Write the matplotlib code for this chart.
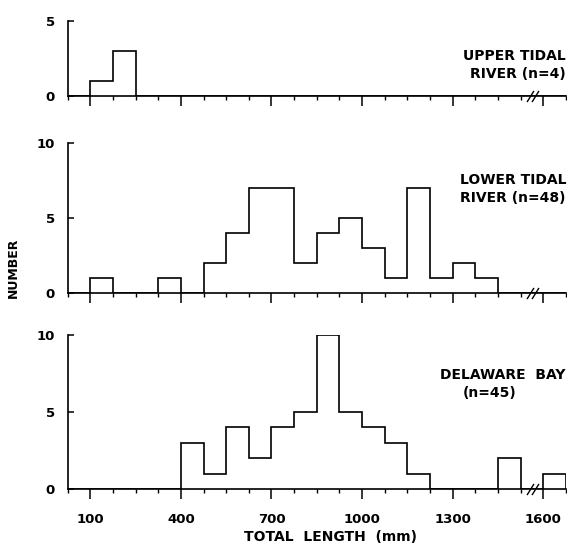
import numpy as np
import matplotlib
matplotlib.use('Agg')
import matplotlib.pyplot as plt
from matplotlib.ticker import MultipleLocator

# bin edges, 75 mm wide, 25..1675 mm
edges = np.arange(25, 1676, 75)

upper = [0, 1, 3, 0, 0, 0, 0, 0, 0, 0, 0, 0, 0, 0, 0, 0, 0, 0, 0, 0, 0, 0]
lower = [0, 1, 0, 0, 1, 0, 2, 4, 7, 7, 2, 4, 5, 3, 1, 7, 1, 2, 1, 0, 0, 0]
bay = [0, 0, 0, 0, 0, 3, 1, 4, 2, 4, 5, 10, 5, 4, 3, 1, 0, 0, 0, 2, 0, 1]

xticks = [100, 400, 700, 1000, 1300, 1600]
xticklabels = ['100', '400', '700', '1000', '1300', '1600']

plt.rcParams['font.family'] = 'DejaVu Sans'
plt.rcParams['font.weight'] = 'bold'

fig = plt.figure(figsize=(5.67, 5.49), dpi=100)

W, H = 567, 549
def box(top, bottom, left=67.6, right=566):
    return [left / W, 1 - bottom / H, (right - left) / W, (bottom - top) / H]

panels = [
    (box(20.7, 96), upper, 5, [0, 5]),
    (box(142.7, 293.3), lower, 10, [0, 5, 10]),
    (box(335, 489), bay, 10, [0, 5, 10]),
]

for rect, counts, ymax, yt in panels:
    ax = fig.add_axes(rect)
    ax.stairs(counts, edges, color='black', lw=1.2)
    ax.set_xlim(25, 1675)
    ax.set_ylim(0, ymax)
    for s in ['top', 'right']:
        ax.spines[s].set_visible(False)
    for s in ['left', 'bottom']:
        ax.spines[s].set_linewidth(1.2)
    ax.set_yticks(yt)
    ax.set_xticks(xticks)
    ax.xaxis.set_minor_locator(MultipleLocator(75, offset=25))
    ax.tick_params(axis='y', direction='in', length=4, width=1.1, pad=9,
                   labelsize=9.5)
    ax.tick_params(axis='x', which='major', direction='out', length=7,
                   width=1.1, pad=10, labelsize=9.5)
    ax.tick_params(axis='x', which='minor', direction='out', length=3,
                   width=1.0)
    ax.set_xticklabels(xticklabels if counts is bay else [])
    # axis break marks
    ax.plot([1556, 1572], [0, 0], linestyle='none', color='black',
            marker=[(-1, -1.6), (1, 1.6)], markersize=8, markeredgewidth=1.0,
            clip_on=False)

fs = 10
fig.text(566 / W, 1 - 56 / H, 'UPPER TIDAL', ha='right', va='center', fontsize=fs)
fig.text(566 / W, 1 - 74 / H, 'RIVER (n=4)', ha='right', va='center', fontsize=fs)
fig.text(566 / W, 1 - 180 / H, 'LOWER TIDAL', ha='right', va='center', fontsize=fs)
fig.text(566 / W, 1 - 198 / H, 'RIVER (n=48)', ha='right', va='center', fontsize=fs)
fig.text(566 / W, 1 - 375 / H, 'DELAWARE  BAY', ha='right', va='center', fontsize=fs)
fig.text(463 / W, 1 - 393 / H, '(n=45)', ha='left', va='center', fontsize=fs)

fig.text(330 / W, 1 - 537 / H, 'TOTAL  LENGTH  (mm)', ha='center', va='center',
         fontsize=fs)
fig.text(13 / W, 1 - 268 / H, 'NUMBER', ha='center', va='center',
         rotation=90, fontsize=9)

fig.savefig('out.png', dpi=100)
